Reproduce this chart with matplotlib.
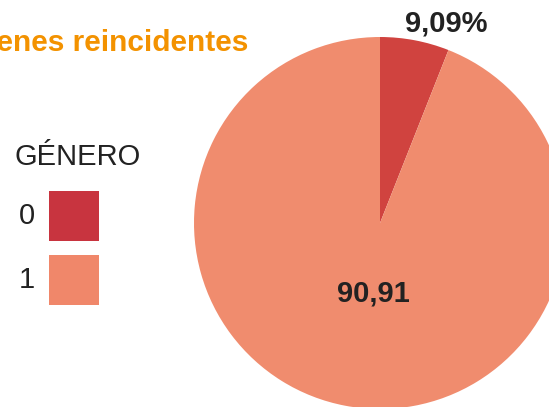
import matplotlib
matplotlib.use("Agg")
import matplotlib.pyplot as plt
from matplotlib.patches import Rectangle

plt.rcParams['font.family'] = ['Liberation Sans', 'DejaVu Sans']

# Data
categories = ["0", "1"]
shares = [6.0, 94.0]           # wedge sizes as drawn
label_texts = ["9,09%", "90,91"]
pie_colors = ["#D0433F", "#F08C6E"]
legend_colors = ["#C8343F", "#F0876A"]
title = "Jóvenes reincidentes"
legend_title = "GÉNERO"

W, H = 549, 407
fig = plt.figure(figsize=(W / 100, H / 100), dpi=100)

# pie axes: center (380, 223) px from top, radius 186 px
cx, cy, r = 380, 223, 186
ax = fig.add_axes([(cx - r) / W, (H - cy - r) / H, 2 * r / W, 2 * r / H])
ax.pie(shares, colors=pie_colors, startangle=90, counterclock=False,
       radius=1.0, wedgeprops=dict(linewidth=0))
ax.set_xlim(-1, 1)
ax.set_ylim(-1, 1)
ax.set_aspect('auto')
ax.axis('off')

# labels
fig.text(446 / W, 1 - 24 / H, label_texts[0], ha='center', va='center',
         fontsize=21, fontweight='bold', color='#222222')
fig.text(373 / W, 1 - 294 / H, label_texts[1], ha='center', va='center',
         fontsize=21, fontweight='bold', color='#222222')

# title (cut at left edge, as in the reference)
fig.text(248 / W, 1 - 51 / H, title, ha='right', va='baseline',
         fontsize=21.5, fontweight='bold', color='#F39200')

# legend
fig.text(15 / W, 1 - 157 / H, legend_title, ha='left', va='center',
         fontsize=21, color='#222222')
ys = [216, 280]
for cat, col, y in zip(categories, legend_colors, ys):
    fig.patches.append(Rectangle((49 / W, 1 - (y + 25) / H), 50 / W, 50 / H,
                                 transform=fig.transFigure, facecolor=col,
                                 edgecolor='none'))
    fig.text(27 / W, 1 - y / H, cat, ha='center', va='center',
             fontsize=21, color='#222222')

fig.savefig("out.png", dpi=100)
